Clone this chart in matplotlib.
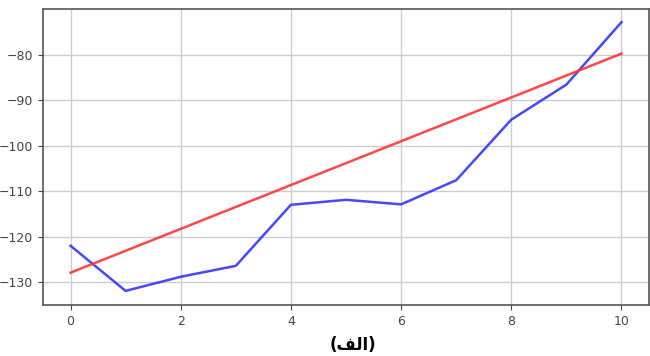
import matplotlib
matplotlib.use("Agg")
import matplotlib.pyplot as plt

x_blue = [0, 1, 2, 3, 4, 5, 6, 7, 8, 9, 10]
y_blue = [-122.0, -131.9, -128.8, -126.4, -113.0, -111.9, -112.9, -107.6, -94.3, -86.6, -72.9]
x_red = [0, 10]
y_red = [-127.9, -79.8]
x_ticks = [0, 2, 4, 6, 8, 10]
y_ticks = [-130, -120, -110, -100, -90, -80]
caption = "(\uFED2\uFEDF\uFE8D)"  # "(الف)" in visual order, presentation forms

fig = plt.figure(figsize=(6.5, 3.56), dpi=100)
ax = fig.add_axes([43/650, 1 - 305/356, (649-43)/650, (305-9)/356])
ax.plot(x_blue, y_blue, color=(0.2, 0.2, 1.0), lw=1.8, alpha=0.9)
ax.plot(x_red, y_red, color=(1.0, 0.2, 0.2), lw=1.8, alpha=0.9)
ax.set_xlim(-0.5, 10.5)
ax.set_ylim(-135, -70)
ax.set_xticks(x_ticks)
ax.set_yticks(y_ticks)
ax.grid(True, color="#cccccc", lw=1.0)
ax.set_axisbelow(True)
ax.tick_params(labelsize=9, colors="#444444")
for s in ax.spines.values():
    s.set_color("#555555")
    s.set_linewidth(1.2)
fig.text(353/650, 1 - 345/356, caption, ha="center", va="center",
         fontsize=12, fontweight="bold", family=["DejaVu Sans"])
fig.savefig("out.png", dpi=100)
